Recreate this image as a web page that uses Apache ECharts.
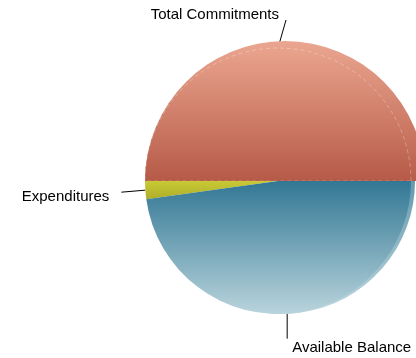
<!DOCTYPE html>
<html>
<head>
<meta charset="utf-8">
<script src="https://cdn.jsdelivr.net/npm/echarts@6/dist/echarts.min.js"></script>
<style>
  html, body { margin: 0; padding: 0; background: #ffffff; }
  #chart { width: 416px; height: 358px; }
</style>
</head>
<body>
<div id="chart"></div>
<script>
// Budget breakdown: commitments split into what has been spent and what remains.
const categories = ['Total Commitments', 'Expenditures', 'Available Balance'];
const values = [100, 4.4, 95.6];

function vgrad(top, bottom) {
  return new echarts.graphic.LinearGradient(0, 0, 0, 1, [
    { offset: 0, color: top },
    { offset: 1, color: bottom }
  ]);
}

const fills = [
  vgrad('#e9a38d', '#b65a48'),
  vgrad('#c9ca35', '#aead2a'),
  vgrad('#327794', '#b9d4dc')
];
const commitmentRim = vgrad('#eaa690', '#b85d4b');
const balanceRim = vgrad('#6299ae', '#c0d9e0');
const hidden = 'rgba(0,0,0,0)';

function slices(styleFor) {
  return categories.map((name, i) => ({ name: name, value: values[i], itemStyle: styleFor(i) }));
}

const base = {
  type: 'pie',
  clockwise: false,
  startAngle: 0,
  avoidLabelOverlap: false,
  silent: true,
  emphasis: { disabled: true },
  label: { show: false },
  labelLine: { show: false }
};

const chart = echarts.init(document.getElementById('chart'), null, { renderer: 'canvas' });

chart.setOption({
  animation: false,
  series: [
    // lit rim behind the commitments wedge
    Object.assign({}, base, {
      center: [285, 181],
      radius: 140,
      data: slices(i => ({ color: i === 0 ? commitmentRim : hidden }))
    }),
    // lit rim along the right side of the balance wedge
    Object.assign({}, base, {
      center: [282, 181],
      radius: 133,
      data: slices(i => ({ color: i === 2 ? balanceRim : hidden }))
    }),
    // main pie
    Object.assign({}, base, {
      center: [278, 181],
      radius: 133,
      data: slices(i => i === 0
        ? { color: fills[0], borderColor: 'rgba(255,255,255,0.28)', borderWidth: 1, borderType: [4, 3] }
        : { color: fills[i] }),
      label: {
        show: true,
        position: 'outside',
        color: '#000000',
        fontFamily: '"Liberation Sans", Arial, sans-serif',
        fontSize: 15
      },
      labelLine: {
        show: true,
        length: 20,
        length2: 0,
        lineStyle: { color: '#000000', width: 1 }
      },
      labelLayout: function (p) {
        const a = p.labelLinePoints[0];
        if (p.dataIndex === 0) {
          return { x: a[0] + 1, y: a[1] - 33, align: 'right', verticalAlign: 'middle',
                   labelLinePoints: [a, [a[0] + 8, a[1] - 28]] };
        }
        if (p.dataIndex === 1) {
          return { x: a[0] - 36, y: a[1] + 7, align: 'right', verticalAlign: 'middle',
                   labelLinePoints: [a, [a[0] - 24, a[1] + 2]] };
        }
        return { x: a[0] + 5, y: a[1] + 34, align: 'left', verticalAlign: 'middle',
                 labelLinePoints: [a, [a[0], a[1] + 25]] };
      }
    })
  ]
});
</script>
</body>
</html>
